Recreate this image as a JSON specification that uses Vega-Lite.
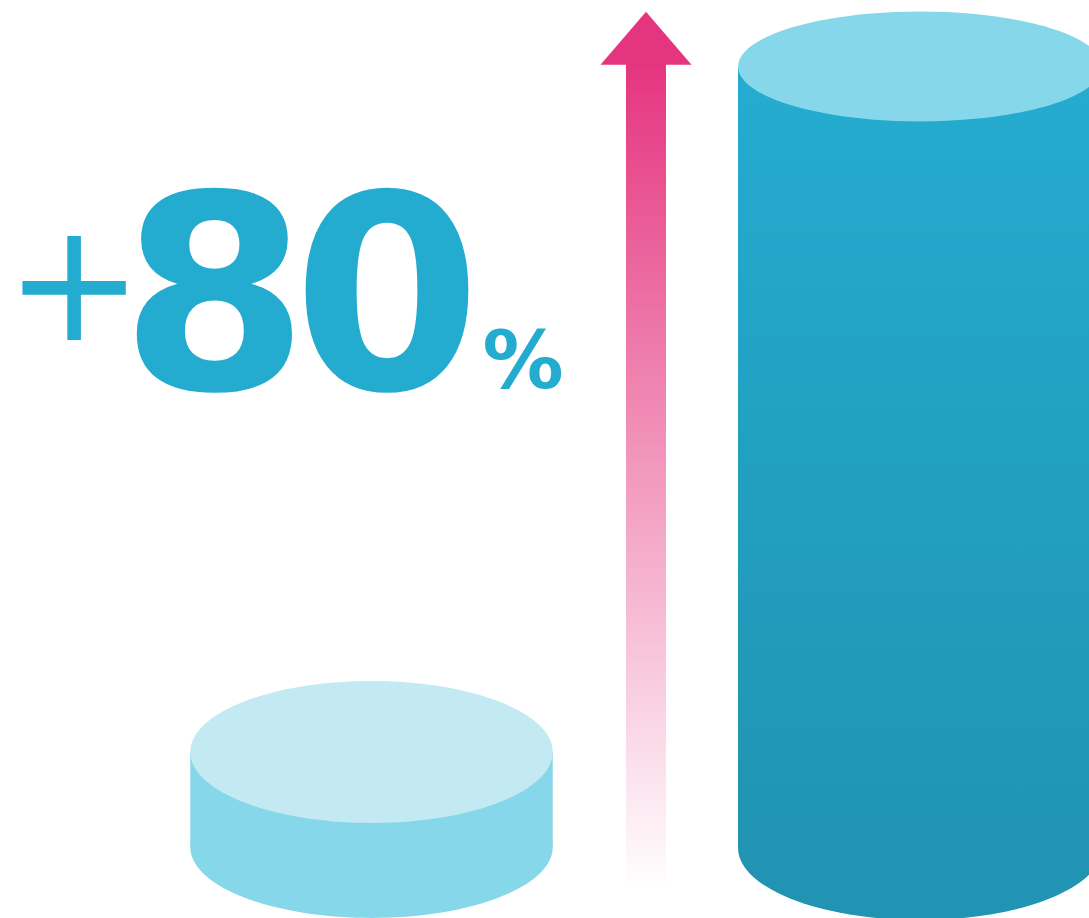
{
  "$schema": "https://vega.github.io/schema/vega-lite/v6.json",
  "width": 1089,
  "height": 918,
  "autosize": {"type": "none"},
  "padding": 0,
  "background": "#ffffff",
  "config": {"view": {"stroke": null}},
  "data": {
    "values": [
      {"item": "arrow shaft", "x": 626, "x2": 666, "y": 64, "y2": 890},
      {"item": "arrow head", "x": 646, "y": 38.2},
      {"item": "before body", "x": 190.25, "x2": 552.75, "y": 752, "y2": 847},
      {"item": "before top", "x": 371.5, "y": 752},
      {"item": "before bottom", "x": 371.5, "y": 847},
      {"item": "after body", "x": 738, "x2": 1102, "y": 66.5, "y2": 848},
      {"item": "after top", "x": 920, "y": 66.5},
      {"item": "after bottom", "x": 920, "y": 848},
      {"item": "plus", "label": "+", "x": 74, "y": 340},
      {"item": "digits", "label": "8", "x": 214.5, "y": 389},
      {"item": "digits", "label": "0", "x": 387, "y": 389},
      {"item": "percent", "label": "%", "x": 523, "y": 388}
    ]
  },
  "encoding": {
    "x": {"field": "x", "type": "quantitative", "scale": {"domain": [0, 1089]}, "axis": null},
    "y": {"field": "y", "type": "quantitative", "scale": {"domain": [0, 918], "reverse": true}, "axis": null}
  },
  "layer": [
    {
      "transform": [{"filter": "datum.item === 'arrow shaft'"}],
      "mark": {"type": "rect", "fill": {"gradient": "linear", "x1": 0, "y1": 0, "x2": 0, "y2": 1, "stops": [{"offset": 0, "color": "#e5357f"}, {"offset": 1, "color": "#ffffff"}]}},
      "encoding": {"x2": {"field": "x2"}, "y2": {"field": "y2"}}
    },
    {
      "transform": [{"filter": "datum.item === 'arrow head'"}],
      "mark": {"type": "point", "filled": true, "opacity": 1, "strokeWidth": 0, "color": "#e5357f", "shape": "M 0 -0.5824 L 1 0.5824 L -1 0.5824 Z", "size": 8281}
    },
    {
      "transform": [{"filter": "datum.item === 'before bottom'"}],
      "mark": {"type": "point", "filled": true, "opacity": 1, "strokeWidth": 0, "color": "#87d7ea", "shape": "M -1 0 A 1 0.3917 0 1 0 1 0 A 1 0.3917 0 1 0 -1 0 Z", "size": 131406}
    },
    {
      "transform": [{"filter": "datum.item === 'before body'"}],
      "mark": {"type": "rect", "color": "#87d7ea"},
      "encoding": {"x2": {"field": "x2"}, "y2": {"field": "y2"}}
    },
    {
      "transform": [{"filter": "datum.item === 'before top'"}],
      "mark": {"type": "point", "filled": true, "opacity": 1, "strokeWidth": 0, "color": "#c3e9f3", "shape": "M -1 0 A 1 0.3917 0 1 0 1 0 A 1 0.3917 0 1 0 -1 0 Z", "size": 131406}
    },
    {
      "transform": [{"filter": "datum.item === 'after bottom'"}],
      "mark": {"type": "point", "filled": true, "opacity": 1, "strokeWidth": 0, "color": "#2094b2", "shape": "M -1 0 A 1 0.396 0 1 0 1 0 A 1 0.396 0 1 0 -1 0 Z", "size": 132496}
    },
    {
      "transform": [{"filter": "datum.item === 'after body'"}],
      "mark": {"type": "rect", "fill": {"gradient": "linear", "x1": 0, "y1": 0, "x2": 0, "y2": 1, "stops": [{"offset": 0, "color": "#24acd0"}, {"offset": 1, "color": "#2094b2"}]}},
      "encoding": {"x2": {"field": "x2"}, "y2": {"field": "y2"}}
    },
    {
      "transform": [{"filter": "datum.item === 'after top'"}],
      "mark": {"type": "point", "filled": true, "opacity": 1, "strokeWidth": 0, "color": "#87d7ea", "shape": "M -1 0 A 1 0.302 0 1 0 1 0 A 1 0.302 0 1 0 -1 0 Z", "size": 132496}
    },
    {
      "transform": [{"filter": "datum.item === 'plus'"}],
      "mark": {"type": "text", "font": "DejaVu Sans", "fontWeight": "normal", "fontSize": 165, "align": "center", "baseline": "alphabetic", "color": "#24acd0"},
      "encoding": {"text": {"field": "label"}}
    },
    {
      "transform": [{"filter": "datum.item === 'digits'"}],
      "mark": {"type": "text", "font": "DejaVu Sans", "fontWeight": "bold", "fontSize": 271, "align": "center", "baseline": "alphabetic", "color": "#24acd0"},
      "encoding": {"text": {"field": "label"}}
    },
    {
      "transform": [{"filter": "datum.item === 'percent'"}],
      "mark": {"type": "text", "font": "DejaVu Sans", "fontWeight": "bold", "fontSize": 81, "align": "center", "baseline": "alphabetic", "color": "#24acd0"},
      "encoding": {"text": {"field": "label"}}
    }
  ]
}
